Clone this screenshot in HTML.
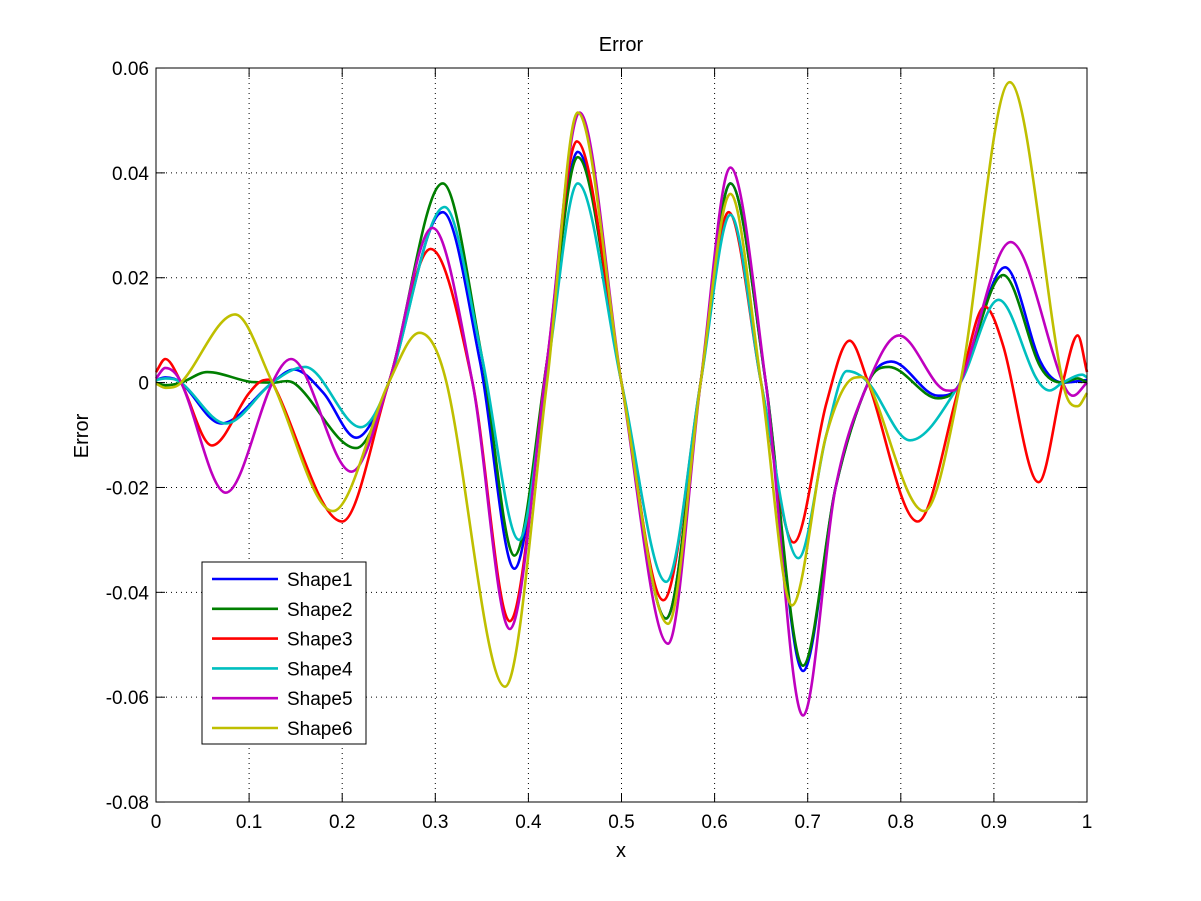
<!DOCTYPE html>
<html><head><meta charset="utf-8"><style>
html,body{margin:0;padding:0;background:#fff}
svg{display:block;font-family:"Liberation Sans",Arial,sans-serif}
</style></head><body>
<svg id="s" width="1201" height="901" viewBox="0 0 1201 901" xmlns="http://www.w3.org/2000/svg">
<rect x="0" y="0" width="1201" height="901" fill="#fff"/>
<g id="grid" stroke="#000" stroke-width="1" stroke-dasharray="1,4"></g>
<g id="curves" fill="none" stroke-width="2.6" stroke-linejoin="round"></g>
<rect x="156" y="68" width="931" height="734" fill="none" stroke="#000" stroke-width="1"/>
<g id="ticks" stroke="#000" stroke-width="1"></g>
<g id="labels" font-size="19" fill="#000"></g>
<text x="621" y="51" font-size="20" text-anchor="middle">Error</text>
<text x="621" y="857" font-size="20" text-anchor="middle">x</text>
<text x="0" y="0" font-size="20" text-anchor="middle" transform="translate(88,436) rotate(-90)">Error</text>
<rect x="202" y="562" width="164" height="182" fill="#fff" stroke="#000" stroke-width="1"/>
<g id="legend" font-size="19"></g>
</svg>
<script>
var X=function(x){return 156+931*x},Y=function(y){return 382.6-5243*y};
var ns="http://www.w3.org/2000/svg";
function el(p,t,a,txt){var e=document.createElementNS(ns,t);for(var k in a)e.setAttribute(k,a[k]);if(txt!=null)e.textContent=txt;document.getElementById(p).appendChild(e);}
for(var i=1;i<10;i++){var x=X(i/10);el("grid","line",{x1:x,y1:68,x2:x,y2:802});}
for(var j=-6;j<=4;j+=2){var y=Y(j/100);el("grid","line",{x1:156,y1:y,x2:1087,y2:y});}
for(var i=0;i<=10;i++){var x=X(i/10);el("ticks","line",{x1:x,y1:802,x2:x,y2:793});el("ticks","line",{x1:x,y1:68,x2:x,y2:77});
 el("labels","text",{x:x,y:828,"text-anchor":"middle"},i==0?"0":i==10?"1":(i/10).toFixed(1));}
for(var j=-8;j<=6;j+=2){var y=Y(j/100);el("ticks","line",{x1:156,y1:y,x2:165,y2:y});el("ticks","line",{x1:1087,y1:y,x2:1078,y2:y});
 el("labels","text",{x:149,y:y+7,"text-anchor":"end"},j==0?"0":(j/100).toFixed(2));}
var S=[
["#0000ff","Shape1",[[0,0.0005],[0.01,0.001],[0.027,0],[0.07,-0.0078],[0.125,0],[0.148,0.0025],[0.18,-0.002],[0.215,-0.0105],[0.25,0],[0.308,0.0325],[0.348,0.004],[0.385,-0.0355],[0.42,0.004],[0.453,0.044],[0.5,0],[0.548,-0.045],[0.585,0],[0.617,0.038],[0.655,0],[0.695,-0.055],[0.73,-0.02],[0.765,0],[0.79,0.004],[0.84,-0.0025],[0.864,0],[0.912,0.022],[0.95,0.004],[0.974,0],[1,0.0005]]],
["#007f00","Shape2",[[0,0],[0.01,-0.0005],[0.027,0],[0.055,0.002],[0.1,0.0002],[0.125,0],[0.15,-0.0003],[0.215,-0.0125],[0.25,0],[0.308,0.038],[0.35,0.005],[0.385,-0.033],[0.42,0.004],[0.453,0.043],[0.5,0],[0.548,-0.045],[0.585,0],[0.617,0.038],[0.655,0],[0.695,-0.054],[0.73,-0.02],[0.765,0],[0.787,0.003],[0.84,-0.003],[0.864,0],[0.91,0.0205],[0.95,0.003],[0.974,0],[0.99,0.0008],[1,0]]],
["#ff0000","Shape3",[[0,0.002],[0.01,0.0045],[0.027,0],[0.06,-0.012],[0.1,-0.002],[0.117,0.0005],[0.125,0],[0.2,-0.0265],[0.25,0],[0.295,0.0255],[0.34,0],[0.38,-0.0455],[0.42,0.004],[0.452,0.046],[0.5,0],[0.545,-0.0415],[0.585,0],[0.615,0.0325],[0.65,0],[0.685,-0.0305],[0.72,-0.004],[0.745,0.008],[0.765,0],[0.818,-0.0265],[0.864,0],[0.89,0.0145],[0.91,0.007],[0.948,-0.019],[0.974,0],[0.99,0.009],[1,0.002]]],
["#00bfbf","Shape4",[[0,0.0005],[0.01,0.0008],[0.027,0],[0.075,-0.0078],[0.125,0],[0.16,0.003],[0.22,-0.0085],[0.25,0],[0.31,0.0335],[0.35,0.005],[0.39,-0.03],[0.42,0.002],[0.453,0.038],[0.5,0],[0.548,-0.038],[0.585,0],[0.617,0.032],[0.65,0],[0.69,-0.0335],[0.72,-0.01],[0.742,0.0022],[0.765,0],[0.81,-0.011],[0.864,0],[0.905,0.0158],[0.945,0.001],[0.96,-0.0015],[0.974,0],[0.995,0.0015],[1,0.001]]],
["#bf00bf","Shape5",[[0,0.0008],[0.01,0.0028],[0.027,0],[0.075,-0.021],[0.125,0],[0.145,0.0045],[0.21,-0.017],[0.25,0],[0.297,0.0295],[0.34,0],[0.38,-0.047],[0.42,0.004],[0.455,0.0515],[0.5,0],[0.55,-0.0498],[0.585,0],[0.617,0.041],[0.655,0],[0.695,-0.0635],[0.73,-0.02],[0.765,0],[0.798,0.009],[0.85,-0.0015],[0.864,0],[0.918,0.0268],[0.974,0],[0.985,-0.0025],[1,0]]],
["#bfbf00","Shape6",[[0,-0.0002],[0.01,-0.001],[0.027,0],[0.085,0.013],[0.125,0],[0.19,-0.0245],[0.25,0],[0.283,0.0095],[0.312,0],[0.375,-0.058],[0.42,0],[0.453,0.0515],[0.5,0],[0.55,-0.046],[0.585,0],[0.617,0.036],[0.65,0],[0.683,-0.0425],[0.72,-0.01],[0.752,0.001],[0.765,0],[0.825,-0.0245],[0.864,0],[0.917,0.0573],[0.974,0],[0.99,-0.0045],[1,-0.002]]]
];
function path(p){var n=p.length,m=[];
 for(var i=0;i<n;i++){
  if(i==0){m[i]=(p[1][1]-p[0][1])/(p[1][0]-p[0][0]);}
  else if(i==n-1){m[i]=(p[i][1]-p[i-1][1])/(p[i][0]-p[i-1][0]);}
  else{var d0=(p[i][1]-p[i-1][1])/(p[i][0]-p[i-1][0]),d1=(p[i+1][1]-p[i][1])/(p[i+1][0]-p[i][0]);
   if(d0*d1<=0)m[i]=0;else m[i]=(p[i+1][1]-p[i-1][1])/(p[i+1][0]-p[i-1][0]);}
 }
 var d="M"+X(p[0][0]).toFixed(1)+","+Y(p[0][1]).toFixed(1);
 for(var i=0;i<n-1;i++){var h=(p[i+1][0]-p[i][0])/3;
  var c1x=p[i][0]+h,c1y=p[i][1]+m[i]*h,c2x=p[i+1][0]-h,c2y=p[i+1][1]-m[i+1]*h;
  d+="C"+X(c1x).toFixed(1)+","+Y(c1y).toFixed(1)+" "+X(c2x).toFixed(1)+","+Y(c2y).toFixed(1)+" "+X(p[i+1][0]).toFixed(1)+","+Y(p[i+1][1]).toFixed(1);}
 return d;}
S.forEach(function(s,k){el("curves","path",{d:path(s[2]),stroke:s[0]});
 var y=579+29.8*k;el("legend","line",{x1:212,y1:y,x2:278,y2:y,stroke:s[0],"stroke-width":2.6});
 el("legend","text",{x:287,y:y+7},s[1]);});
</script>
</body></html>
